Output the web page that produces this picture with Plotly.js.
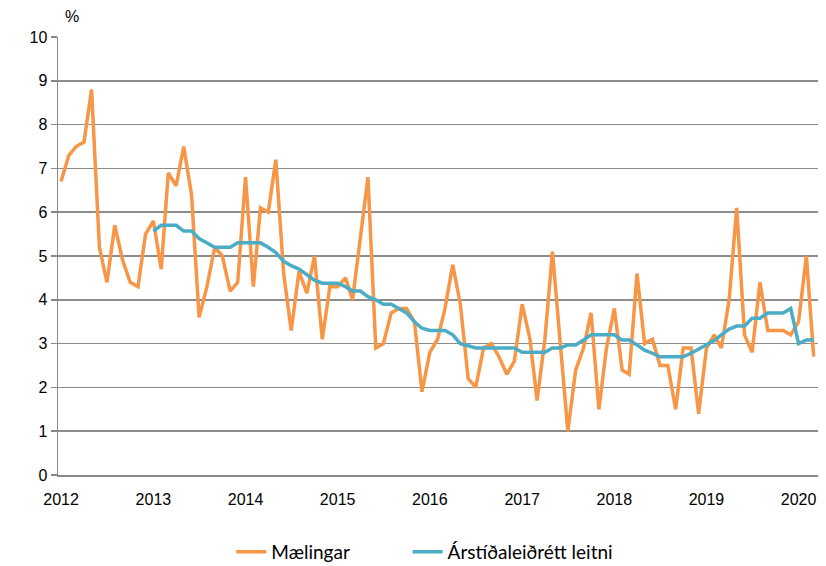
<!DOCTYPE html>
<html>
<head>
<meta charset="utf-8">
<script src="https://cdn.plot.ly/plotly-3.0.1.min.js"></script>
<style>html,body{margin:0;padding:0;background:#fff;}#chart{width:826px;height:566px;}</style>
</head>
<body>
<div id="chart"></div>
<script>
// Monthly observations Jan 2012 – Mar 2020
const startYear = 2012;
const nMonths = 99;
const maelingar = [
  6.7, 7.3, 7.5, 7.6, 8.8, 5.2, 4.4, 5.7, 4.9, 4.4, 4.3, 5.5,
  5.8, 4.7, 6.9, 6.6, 7.5, 6.4, 3.6, 4.3, 5.2, 5.0, 4.2, 4.4,
  6.8, 4.3, 6.1, 6.0, 7.2, 4.6, 3.3, 4.65, 4.15, 5.0, 3.1, 4.3,
  4.3, 4.5, 4.0, 5.4, 6.8, 2.9, 3.0, 3.7, 3.8, 3.8, 3.5, 1.9,
  2.8, 3.1, 3.8, 4.8, 3.9, 2.2, 2.0, 2.9, 3.0, 2.7, 2.3, 2.6,
  3.9, 3.1, 1.7, 3.1, 5.1, 3.0, 1.0, 2.4, 2.9, 3.7, 1.5, 2.9,
  3.8, 2.4, 2.3, 4.6, 3.0, 3.1, 2.5, 2.5, 1.5, 2.9, 2.9, 1.4,
  2.9, 3.2, 2.9, 4.0, 6.1, 3.2, 2.8, 4.4, 3.3, 3.3, 3.3, 3.2,
  3.5, 5.0, 2.7
];
const leitni = [
  null, null, null, null, null, null, null, null, null, null, null, null,
  5.57, 5.7, 5.7, 5.7, 5.57, 5.57, 5.4, 5.3, 5.2, 5.2, 5.2, 5.3,
  5.3, 5.3, 5.3, 5.2, 5.08, 4.88, 4.78, 4.7, 4.57, 4.45, 4.38, 4.38,
  4.38, 4.3, 4.2, 4.2, 4.07, 4.0, 3.9, 3.9, 3.8, 3.7, 3.5, 3.35,
  3.3, 3.3, 3.3, 3.2, 3.0, 2.95, 2.9, 2.9, 2.9, 2.9, 2.9, 2.9,
  2.8, 2.8, 2.8, 2.8, 2.9, 2.9, 2.97, 2.97, 3.08, 3.2, 3.2, 3.2,
  3.2, 3.08, 3.08, 2.97, 2.85, 2.78, 2.7, 2.7, 2.7, 2.7, 2.78, 2.87,
  2.97, 3.07, 3.2, 3.33, 3.4, 3.4, 3.58, 3.58, 3.7, 3.7, 3.7, 3.8,
  3.0, 3.08, 3.08
];
const yearTicks = [2012, 2013, 2014, 2015, 2016, 2017, 2018, 2019, 2020];
const seriesNames = ['Mælingar', 'Árstíðaleiðrétt leitni'];

const dates = [];
for (let i = 0; i < nMonths; i++) {
  const y = startYear + Math.floor(i / 12);
  const m = (i % 12) + 1;
  dates.push(y + '-' + String(m).padStart(2, '0') + '-01');
}

const traces = [
  {x: dates, y: maelingar, type: 'scatter', mode: 'lines', name: seriesNames[0],
   line: {color: '#F79646', width: 3.5}, legend: 'legend'},
  {x: dates, y: leitni, type: 'scatter', mode: 'lines', name: seriesNames[1],
   line: {color: '#4BACC6', width: 3.5}, legend: 'legend2'}
];

const legendFont = {family: 'Lato, Carlito, sans-serif', size: 19};
const layout = {
  width: 826, height: 566,
  margin: {l: 58, r: 8, t: 37, b: 91, autoexpand: false},
  paper_bgcolor: '#fff', plot_bgcolor: '#fff',
  font: {family: 'Liberation Sans, Arial, sans-serif', size: 16, color: '#000'},
  xaxis: {
    type: 'date', range: ['2011-12-20', '2020-03-18'],
    tickvals: yearTicks.map(y => y + '-01-01'), ticktext: yearTicks.map(String),
    showgrid: false, zeroline: false, showline: true, linecolor: '#888', linewidth: 1.5,
    ticks: '', ticklabelstandoff: 9, tickfont: {size: 16}
  },
  yaxis: {
    range: [0, 10], dtick: 1, tick0: 0,
    showgrid: true, gridcolor: '#8c8c8c', gridwidth: 1.5,
    zeroline: false, showline: true, linecolor: '#888', linewidth: 1.5,
    ticks: 'outside', ticklen: 6, tickcolor: '#888', tickwidth: 1.5,
    tickfont: {size: 16}
  },
  showlegend: true,
  legend: {orientation: 'h', x: 0.228, xanchor: 'left', y: 0.025, yanchor: 'middle',
           yref: 'container', font: legendFont},
  legend2: {orientation: 'h', x: 0.46, xanchor: 'left', y: 0.025, yanchor: 'middle',
           yref: 'container', font: legendFont},
  annotations: [{text: '%', xref: 'paper', yref: 'paper', x: 0.019, y: 1.022,
                 xanchor: 'center', yanchor: 'bottom', showarrow: false,
                 font: {size: 16}}]
};

Plotly.newPlot('chart', traces, layout, {displayModeBar: false, staticPlot: true});
</script>
</body>
</html>
